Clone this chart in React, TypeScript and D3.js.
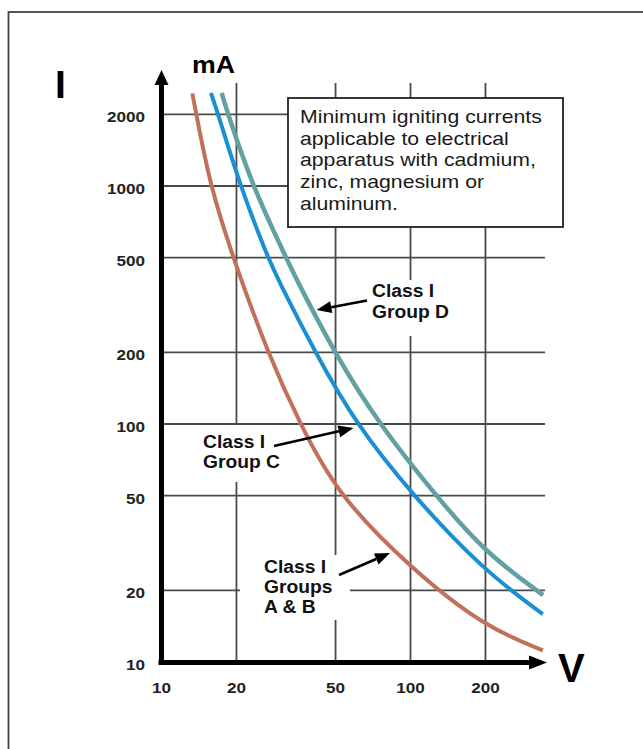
import React from "react";
import * as d3 from "d3";

// ---- data ----
const xTicks = [10, 20, 50, 100, 200];
const yTicks = [10, 20, 50, 100, 200, 500, 1000, 2000];
const xGrid = [20, 50, 100, 200];
const yGrid = [20, 50, 100, 200, 500, 1000, 2000];

const voltsAB = [13.3, 13.8, 15.7, 19.2, 26.8, 36, 50.7, 100, 197, 340];
const ampsAB = [2450, 2000, 1000, 512, 197, 100, 50.8, 24.8, 14.1, 11.2];

const voltsC = [15.8, 16.9, 20.7, 26.5, 29.4, 41.7, 60.4, 101, 197, 340];
const ampsC = [2460, 2000, 1000, 512, 403, 197, 100, 50.8, 24.2, 15.9];

const voltsD = [17.45, 18.5, 23.2, 31.3, 34.9, 49.8, 74.7, 125, 197, 341];
const ampsD = [2460, 2000, 1000, 512, 403, 197, 100, 50.8, 29.1, 19.1];

const noteLines = [
  "Minimum igniting currents",
  "applicable to electrical",
  "apparatus with cadmium,",
  "zinc, magnesium or",
  "aluminum.",
];
const labelD = ["Class I", "Group D"];
const labelC = ["Class I", "Group C"];
const labelAB = ["Class I", "Groups", "A &  B"];

const FONT = "'Liberation Sans', Arial, Helvetica, sans-serif";

function T(props: {
  x: number;
  y: number;
  sx?: number;
  size: number;
  weight?: string | number;
  anchor?: string;
  fill?: string;
  children: React.ReactNode;
}) {
  const { x, y, sx = 1, size, weight = "normal", anchor = "start", fill = "#111" } = props;
  return (
    <text
      transform={`translate(${x},${y}) scale(${sx},1)`}
      fontFamily={FONT}
      fontSize={size}
      fontWeight={weight}
      textAnchor={anchor}
      fill={fill}
    >
      {props.children}
    </text>
  );
}

function Arrow({ x1, y1, x2, y2 }: { x1: number; y1: number; x2: number; y2: number }) {
  const ang = Math.atan2(y2 - y1, x2 - x1);
  const L = 15;
  const W = 6;
  const bx = x2 - L * Math.cos(ang);
  const by = y2 - L * Math.sin(ang);
  const px = -Math.sin(ang) * W;
  const py = Math.cos(ang) * W;
  return (
    <g>
      <line x1={x1} y1={y1} x2={bx} y2={by} stroke="#000" strokeWidth={2.6} />
      <path d={`M${x2},${y2}L${bx + px},${by + py}L${bx - px},${by - py}Z`} fill="#000" />
    </g>
  );
}

export default function App() {
  const x = d3.scaleLog().domain([10, 100]).range([161.5, 410.5]);
  const y = d3.scaleLog().domain([10, 1000]).range([662, 186]);

  const line = d3
    .line<[number, number]>()
    .x((d) => x(d[0]))
    .y((d) => y(d[1]))
    .curve(d3.curveBasis);

  const series = [
    { v: voltsAB, a: ampsAB, color: "#c1705a", w: 4 },
    { v: voltsC, a: ampsC, color: "#1a8fd2", w: 4 },
    { v: voltsD, a: ampsD, color: "#62a0a1", w: 4.5 },
  ];

  const x0 = x(10);
  const y0 = y(10);
  const gridTop = 83;
  const gridRight = 545;

  return (
    <svg
      width={643}
      height={749}
      style={{ position: "absolute", left: 0, top: 0, display: "block", background: "#fff" }}
    >
      <rect x={0} y={0} width={643} height={749} fill="#fff" />
      {/* outer frame (cut off at right/bottom) */}
      <rect x={8.5} y={12} width={640} height={800} fill="none" stroke="#444" strokeWidth={1.8} />

      {/* grid */}
      {xGrid.map((v) => (
        <line key={"gx" + v} x1={x(v)} x2={x(v)} y1={gridTop} y2={y0} stroke="#4a4a4a" strokeWidth={1.8} />
      ))}
      {yGrid.map((v) => (
        <line key={"gy" + v} x1={x0} x2={gridRight} y1={y(v)} y2={y(v)} stroke="#4a4a4a" strokeWidth={1.8} />
      ))}

      {/* curves */}
      {series.map((s, i) => (
        <path
          key={"s" + i}
          d={line(s.v.map((vv, j) => [vv, s.a[j]] as [number, number])) || ""}
          fill="none"
          stroke={s.color}
          strokeWidth={s.w}
          strokeLinecap="butt"
        />
      ))}

      {/* label backgrounds */}
      <rect x={365} y={280} width={78} height={56} fill="#fff" />
      <rect x={204} y={425} width={64} height={27} rx={6} fill="#fff" />
      <rect x={200} y={450} width={84} height={32} rx={6} fill="#fff" />
      <rect x={240} y={555} width={110} height={65} rx={8} fill="#fff" />

      {/* note box */}
      <rect x={288} y={98} width={275} height={129} fill="#fff" stroke="#222" strokeWidth={1.8} />
      {noteLines.map((t, i) => (
        <T key={"n" + i} x={300} y={123 + i * 21.7} size={18} sx={1.18} fill="#1a1a1a">
          {t}
        </T>
      ))}

      {/* curve labels */}
      {labelD.map((t, i) => (
        <T key={"d" + i} x={372} y={297 + i * 21} size={18} sx={1.07} weight="bold">
          {t}
        </T>
      ))}
      {labelC.map((t, i) => (
        <T key={"c" + i} x={203} y={447.5 + i * 20} size={18} sx={1.07} weight="bold">
          {t}
        </T>
      ))}
      {labelAB.map((t, i) => (
        <T key={"ab" + i} x={264} y={572.5 + i * 20.3} size={18} sx={1.07} weight="bold">
          {t}
        </T>
      ))}

      {/* arrows */}
      <Arrow x1={367} y1={300.5} x2={316.5} y2={310} />
      <Arrow x1={274} y1={446} x2={353.5} y2={428} />
      <Arrow x1={339} y1={575} x2={390} y2={553} />

      {/* axes */}
      <line x1={x0} x2={x0} y1={y0 + 2.5} y2={84} stroke="#000" strokeWidth={5} />
      <path d={`M${x0},70L${x0 - 7},85L${x0 + 7},85Z`} fill="#000" />
      <line x1={x0 - 3} x2={530} y1={y0 + 0.5} y2={y0 + 0.5} stroke="#000" strokeWidth={5} />
      <path d={`M547,${y0 + 0.5}L529,${y0 - 6.5}L529,${y0 + 7.5}Z`} fill="#000" />

      {/* tick labels */}
      {yTicks.map((v) => (
        <T key={"yt" + v} x={145} y={y(v) + 8} size={14.5} sx={1.18} weight="bold" anchor="end" fill="#222">
          {String(v)}
        </T>
      ))}
      {xTicks.map((v) => (
        <T key={"xt" + v} x={x(v)} y={693} size={14.5} sx={1.18} weight="bold" anchor="middle" fill="#222">
          {String(v)}
        </T>
      ))}

      {/* axis titles */}
      <T x={55} y={98} size={39} weight="bold" fill="#000">I</T>
      <T x={192} y={73} size={23} sx={1.16} weight="bold" fill="#000">mA</T>
      <T x={558} y={682} size={40} weight="bold" fill="#000">V</T>
    </svg>
  );
}
